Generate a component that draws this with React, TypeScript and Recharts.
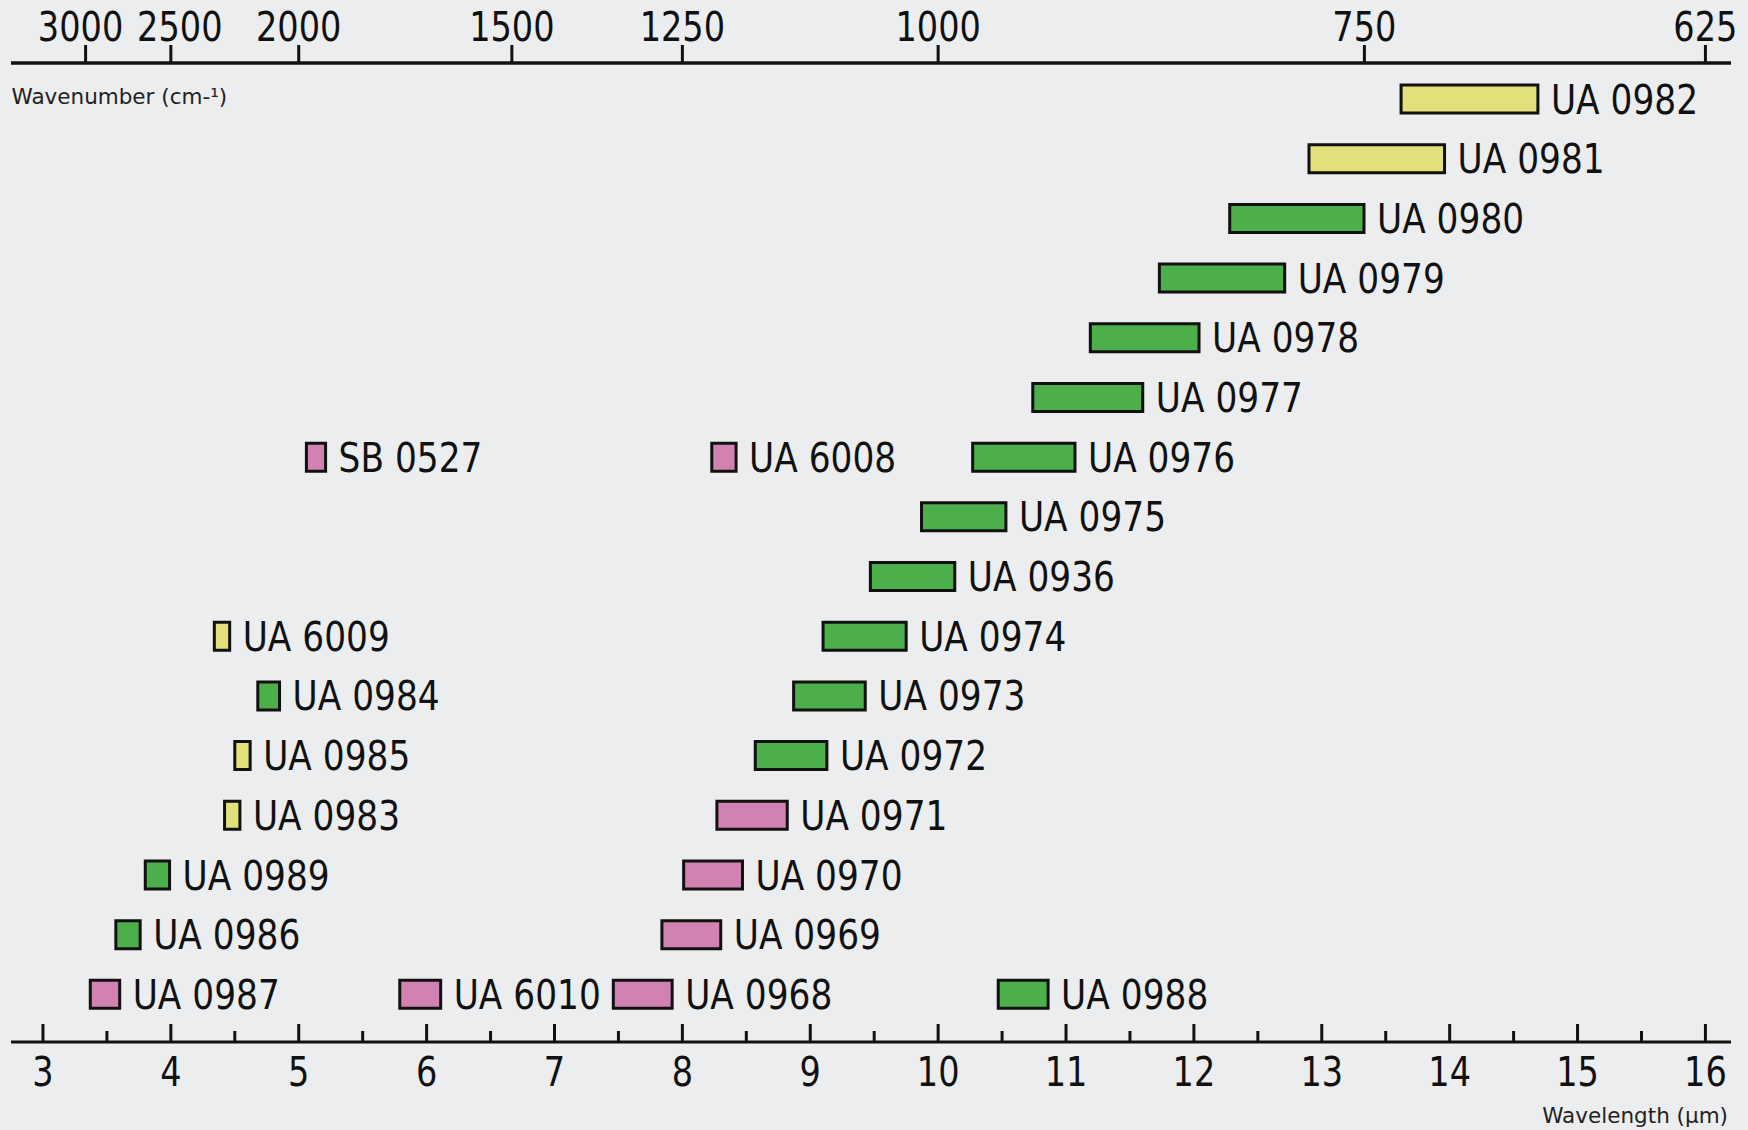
import React from 'react';
import { BarChart, Bar, XAxis, YAxis, Cell, LabelList } from 'recharts';

// filters, top row first
const codes = [
  'UA 0982', 'UA 0981', 'UA 0980', 'UA 0979', 'UA 0978', 'UA 0977',
  'SB 0527', 'UA 6008', 'UA 0976', 'UA 0975', 'UA 0936',
  'UA 6009', 'UA 0974', 'UA 0984', 'UA 0973', 'UA 0985', 'UA 0972',
  'UA 0983', 'UA 0971', 'UA 0989', 'UA 0970', 'UA 0986', 'UA 0969',
  'UA 0987', 'UA 6010', 'UA 0968', 'UA 0988',
];
const rowOf = [0, 1, 2, 3, 4, 5, 6, 6, 6, 7, 8, 9, 9, 10, 10, 11, 11, 12, 12, 13, 13, 14, 14, 15, 15, 15, 15];
const startUm = [
  13.62, 12.9, 12.28, 11.73, 11.19, 10.74,
  5.06, 8.23, 10.27, 9.87, 9.47,
  4.34, 9.1, 4.68, 8.87, 4.5, 8.57,
  4.42, 8.27, 3.8, 8.01, 3.57, 7.84,
  3.37, 5.79, 7.46, 10.47,
];
const endUm = [
  14.69, 13.96, 13.33, 12.71, 12.04, 11.6,
  5.21, 8.42, 11.07, 10.53, 10.13,
  4.46, 9.75, 4.85, 9.43, 4.62, 9.13,
  4.54, 8.82, 3.99, 8.47, 3.76, 8.3,
  3.6, 6.11, 7.92, 10.86,
];
const colourGroup = [
  'yellow', 'yellow', 'green', 'green', 'green', 'green',
  'pink', 'pink', 'green', 'green', 'green',
  'yellow', 'green', 'green', 'green', 'yellow', 'green',
  'yellow', 'pink', 'green', 'pink', 'green', 'pink',
  'pink', 'pink', 'pink', 'green',
];

const wavelengthTicks = [3, 4, 5, 6, 7, 8, 9, 10, 11, 12, 13, 14, 15, 16];
const minorTicks = [3.5, 4.5, 5.5, 6.5, 7.5, 8.5, 9.5, 10.5, 11.5, 12.5, 13.5, 14.5, 15.5];
const wavenumberTicks = [3000, 2500, 2000, 1500, 1250, 1000, 750, 625];

const palette: Record<string, string> = {
  yellow: '#E1E07A',
  green: '#4CAF4B',
  pink: '#D282B1',
};

// crowded top labels are pushed apart a little
const topLabelNudge: Record<number, number> = { 3000: -5, 2500: 9 };

const FONT = '"DejaVu Sans", Verdana, sans-serif';
const INK = '#111';
const ROW_COUNT = 16;
const SLOTS = [0, 1, 2, 3];

// one row per line of the chart, up to 4 bars in a row
const rows: any[] = Array.from({ length: ROW_COUNT }, (_, r) => ({ row: String(r) }));
codes.forEach((code, i) => {
  const r = rows[rowOf[i]];
  let k = 0;
  while (r['s' + k]) k++;
  r['s' + k] = [startUm[i], endUm[i]];
  r['n' + k] = code;
  r['c' + k] = colourGroup[i];
});

const BottomTick = (props: any) => {
  const { x, y, payload } = props;
  const v = payload.value;
  const major = Number.isInteger(v);
  return (
    <g>
      <line x1={x} x2={x} y1={y} y2={y - (major ? 18 : 11)} stroke={INK} strokeWidth={3} />
      {major && (
        <text
          transform={`translate(${x},${y + 44}) scale(0.84,1)`}
          textAnchor="middle"
          fontSize={40}
          fontFamily={FONT}
          fill={INK}
        >
          {v}
        </text>
      )}
    </g>
  );
};

const TopTick = (props: any) => {
  const { x, y, payload } = props;
  const wn = Math.round(10000 / payload.value);
  const dx = topLabelNudge[wn] || 0;
  return (
    <g>
      <line x1={x} x2={x} y1={y} y2={y - 18} stroke={INK} strokeWidth={3} />
      <text
        transform={`translate(${x + dx},${y - 22}) scale(0.84,1)`}
        textAnchor="middle"
        fontSize={40}
        fontFamily={FONT}
        fill={INK}
      >
        {wn}
      </text>
    </g>
  );
};

const renderCode = (props: any) => {
  const { value } = props;
  if (!value) return null;
  const vb = props.viewBox || props;
  const tx = vb.x + vb.width + 13;
  const ty = vb.y + vb.height / 2 + 14.6;
  return (
    <text
      transform={`translate(${tx},${ty}) scale(0.86,1)`}
      fontSize={40}
      fontFamily={FONT}
      fill={INK}
    >
      {value}
    </text>
  );
};

const topTitle = (props: any) => {
  const vb = props.viewBox;
  return (
    <text x={vb.x + 0.5} y={vb.y + vb.height + 41} fontSize={21.5} fontFamily={FONT} fill="#222">
      Wavenumber (cm-¹)
    </text>
  );
};

const bottomTitle = (props: any) => {
  const vb = props.viewBox;
  return (
    <text
      x={vb.x + vb.width - 3}
      y={vb.y + 81}
      textAnchor="end"
      fontSize={21.5}
      fontFamily={FONT}
      fill="#222"
    >
      Wavelength (µm)
    </text>
  );
};

export default function App() {
  const domain: [number, number] = [2.75, 16.2];
  return (
    <div style={{ position: 'absolute', left: 0, top: 0, width: 1748, height: 1130, background: '#ECEDEF' }}>
      <BarChart
        width={1748}
        height={1130}
        data={rows}
        layout="vertical"
        margin={{ top: 0, right: 17, bottom: 0, left: 11 }}
        barSize={28}
        barGap={-28}
        barCategoryGap={0}
      >
        <XAxis
          xAxisId="top"
          orientation="top"
          type="number"
          domain={domain}
          allowDataOverflow
          ticks={wavenumberTicks.map((w) => 10000 / w)}
          interval={0}
          height={63}
          tickLine={false}
          tickSize={0}
          tickMargin={0}
          axisLine={{ stroke: INK, strokeWidth: 3.5 }}
          tick={TopTick}
          label={topTitle}
        />
        <XAxis
          xAxisId="bottom"
          orientation="bottom"
          type="number"
          domain={domain}
          allowDataOverflow
          ticks={[...wavelengthTicks, ...minorTicks].sort((a, b) => a - b)}
          interval={0}
          height={88}
          tickLine={false}
          tickSize={0}
          tickMargin={0}
          axisLine={{ stroke: INK, strokeWidth: 3 }}
          tick={BottomTick}
          label={bottomTitle}
        />
        <YAxis type="category" dataKey="row" hide padding={{ top: 6, bottom: 18 }} />
        {SLOTS.map((k) => (
          <Bar
            key={k}
            xAxisId="bottom"
            dataKey={'s' + k}
            stroke={INK}
            strokeWidth={3}
            isAnimationActive={false}
          >
            {rows.map((r, i) => (
              <Cell key={i} fill={palette[r['c' + k]] || 'none'} />
            ))}
            <LabelList dataKey={'n' + k} content={renderCode} />
          </Bar>
        ))}
      </BarChart>
    </div>
  );
}
